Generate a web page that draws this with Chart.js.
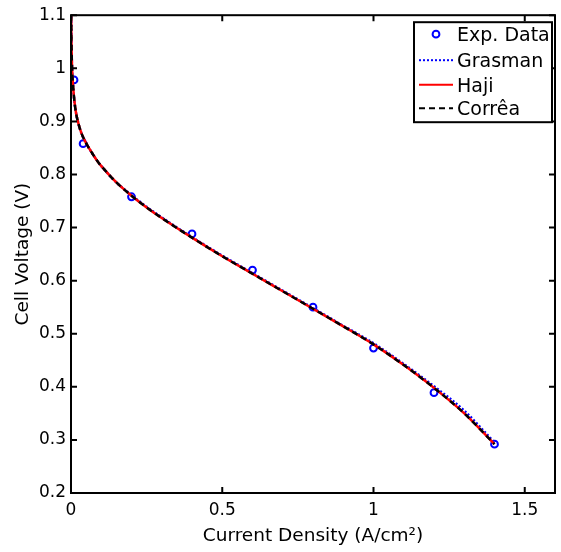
<!DOCTYPE html>
<html lang="en">
<head>
  <meta charset="UTF-8">
  <title>Polarization Curve</title>
  <script src="https://cdn.jsdelivr.net/npm/chart.js"></script>
</head>
<body style="margin:0;background:#fff;">
  <div style="width:561px;height:552px;position:relative;">
    <canvas id="polChart"></canvas>
  </div>
  <script>
    // Experimental points
    const expCurrent = [0.01, 0.04, 0.2, 0.4, 0.6, 0.8, 1.0, 1.2, 1.4];
    const expVoltage = [0.978, 0.858, 0.758, 0.688, 0.620, 0.550, 0.473, 0.389, 0.292];

    // Model curves
    const modelCurrent = [0.0004, 0.001, 0.002, 0.0035, 0.0055, 0.01, 0.016, 0.025, 0.035, 0.05, 0.07, 0.09, 0.12, 0.15, 0.2, 0.25, 0.3, 0.4, 0.5, 0.6, 0.7, 0.8, 0.9, 1.0, 1.1, 1.2, 1.3, 1.4];
    const grasmanVoltage = [1.12, 1.07, 1.033, 1.0, 0.978, 0.945, 0.918, 0.895, 0.877, 0.859, 0.840, 0.823, 0.803, 0.785, 0.761, 0.739, 0.719, 0.682, 0.647, 0.614, 0.581, 0.548, 0.515, 0.482, 0.443, 0.401, 0.355, 0.295];
    const hajiVoltage = [1.12, 1.07, 1.033, 1.0, 0.978, 0.945, 0.918, 0.895, 0.877, 0.859, 0.840, 0.823, 0.803, 0.785, 0.760, 0.738, 0.718, 0.681, 0.646, 0.613, 0.580, 0.547, 0.514, 0.480, 0.441, 0.398, 0.350, 0.292];
    const correaVoltage = [1.12, 1.07, 1.033, 1.0, 0.978, 0.945, 0.918, 0.895, 0.877, 0.859, 0.840, 0.823, 0.803, 0.785, 0.760, 0.738, 0.718, 0.681, 0.646, 0.613, 0.580, 0.547, 0.514, 0.480, 0.441, 0.398, 0.350, 0.292];

    // Axis ticks
    const xTicks = [0, 0.5, 1, 1.5];
    const xTickLabels = ['0', '0.5', '1', '1.5'];
    const yTicks = [0.2, 0.3, 0.4, 0.5, 0.6, 0.7, 0.8, 0.9, 1.0, 1.1];
    const yTickLabels = ['0.2', '0.3', '0.4', '0.5', '0.6', '0.7', '0.8', '0.9', '1', '1.1'];

    const toPoints = (xs, ys) => xs.map((x, i) => ({ x: x, y: ys[i] }));

    Chart.defaults.font.family = "'DejaVu Sans', sans-serif";
    Chart.defaults.color = '#000';

    // box around the axes + inward ticks on all four sides
    const framePlugin = {
      id: 'frame',
      afterDraw(chart) {
        const { ctx, chartArea: a, scales: { x, y } } = chart;
        ctx.save();
        ctx.strokeStyle = '#000';
        ctx.lineWidth = 2;
        ctx.strokeRect(a.left, a.top, a.right - a.left, a.bottom - a.top);
        ctx.beginPath();
        xTicks.forEach(v => {
          const px = x.getPixelForValue(v);
          ctx.moveTo(px, a.bottom); ctx.lineTo(px, a.bottom - 6);
          ctx.moveTo(px, a.top); ctx.lineTo(px, a.top + 6);
        });
        yTicks.forEach(v => {
          const py = y.getPixelForValue(v);
          ctx.moveTo(a.left, py); ctx.lineTo(a.left + 6, py);
          ctx.moveTo(a.right, py); ctx.lineTo(a.right - 6, py);
        });
        ctx.stroke();
        ctx.restore();
      }
    };

    // MATLAB style legend box in the top right corner
    const boxLegend = {
      id: 'boxLegend',
      afterDraw(chart) {
        const { ctx, chartArea: a } = chart;
        const w = 138, h = 100;
        const left = a.right - 3 - w, top = a.top + 7;
        ctx.save();
        ctx.fillStyle = '#fff';
        ctx.fillRect(left, top, w, h);
        ctx.strokeStyle = '#000';
        ctx.lineWidth = 2;
        ctx.strokeRect(left, top, w, h);
        const rows = [12, 38, 62.5, 86];
        ctx.font = "19px 'DejaVu Sans', sans-serif";
        ctx.textBaseline = 'alphabetic';
        chart.data.datasets.forEach((ds, i) => {
          const cy = top + rows[i];
          ctx.strokeStyle = ds.borderColor;
          ctx.lineWidth = 2;
          if (ds.showLine === false) {
            ctx.setLineDash([]);
            ctx.beginPath();
            ctx.arc(left + 22, cy, ds.pointRadius, 0, Math.PI * 2);
            ctx.stroke();
          } else {
            ctx.setLineDash(ds.borderDash || []);
            ctx.beginPath();
            ctx.moveTo(left + 5, cy);
            ctx.lineTo(left + 39, cy);
            ctx.stroke();
            ctx.setLineDash([]);
          }
          ctx.fillStyle = '#000';
          ctx.fillText(ds.label, left + 43, cy + 7);
        });
        ctx.restore();
      }
    };

    const curve = (label, ys, color, dash, width, order) => ({
      label: label,
      data: toPoints(modelCurrent, ys),
      borderColor: color,
      borderWidth: width,
      borderDash: dash,
      pointRadius: 0,
      fill: false,
      cubicInterpolationMode: 'monotone',
      order: order
    });

    new Chart(document.getElementById('polChart'), {
      type: 'line',
      data: {
        datasets: [
          {
            label: 'Exp. Data',
            data: toPoints(expCurrent, expVoltage),
            showLine: false,
            borderColor: '#0000ff',
            backgroundColor: 'rgba(0,0,0,0)',
            pointRadius: 3.4,
            pointBorderWidth: 2,
            order: 4
          },
          curve('Grasman', grasmanVoltage, '#0000ff', [2, 2], 2.5, 3),
          curve('Haji', hajiVoltage, '#ff0000', [], 2.5, 2),
          curve('Corrêa', correaVoltage, '#000000', [6, 4], 2.5, 1)
        ]
      },
      options: {
        responsive: true,
        maintainAspectRatio: false,
        animation: false,
        devicePixelRatio: 1,
        layout: { padding: { top: 15, right: 2, bottom: 0, left: 0 } },
        plugins: { legend: { display: false }, tooltip: { enabled: false } },
        scales: {
          x: {
            type: 'linear',
            min: 0, max: 1.6,
            grid: { display: false, drawTicks: false },
            border: { display: false },
            afterBuildTicks: s => { s.ticks = xTicks.map(v => ({ value: v })); },
            afterFit: s => { s.height = 59; },
            ticks: {
              autoSkip: false, maxRotation: 0, padding: 7,
              font: { size: 17 },
              callback: (v, i) => xTickLabels[i]
            },
            title: {
              display: true,
              text: 'Current Density (A/cm²)',
              font: { size: 18.5 },
              padding: { top: 0, bottom: 5 }
            }
          },
          y: {
            type: 'linear',
            min: 0.2, max: 1.1,
            grid: { display: false, drawTicks: false },
            border: { display: false },
            afterBuildTicks: s => { s.ticks = yTicks.map(v => ({ value: v })); },
            afterFit: s => { s.width = 71; },
            ticks: {
              autoSkip: false, padding: 5,
              font: { size: 17 },
              callback: (v, i) => yTickLabels[i]
            },
            title: {
              display: true,
              text: 'Cell Voltage (V)',
              font: { size: 18.5 },
              padding: { top: 12, bottom: 0 }
            }
          }
        }
      },
      plugins: [framePlugin, boxLegend]
    });
  </script>
</body>
</html>
